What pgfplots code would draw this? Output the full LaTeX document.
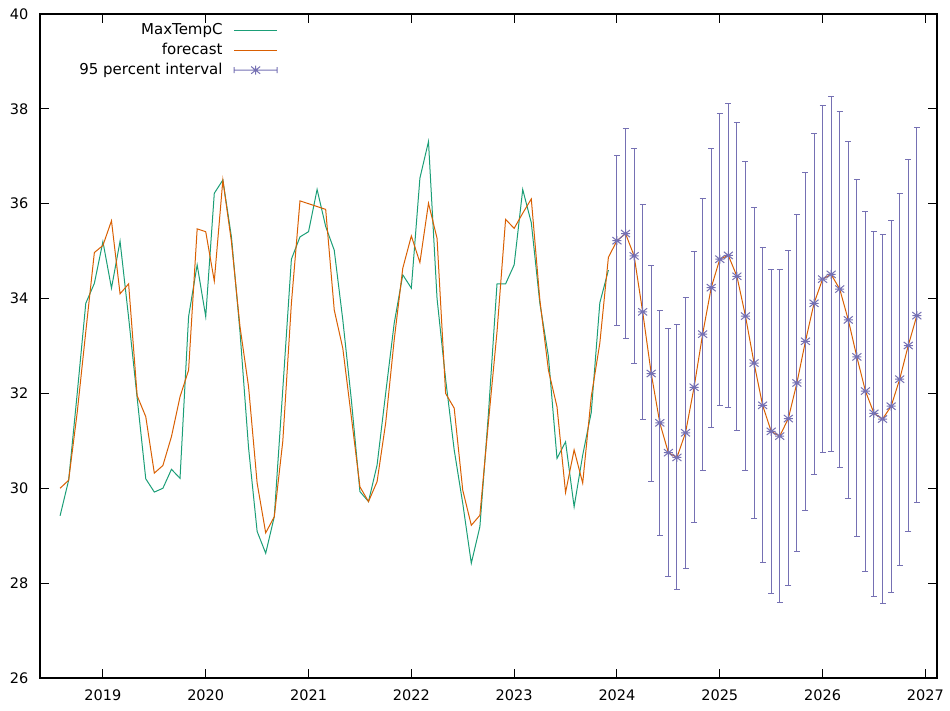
\documentclass[border=0pt]{standalone}
\usepackage{fontspec}
\setmainfont{DejaVu Sans}
\usepackage{pgfplots}
\pgfplotsset{compat=1.18}
\usepackage{pgfplotstable}
\definecolor{gpgreen}{HTML}{1B9E77}
\definecolor{gporange}{HTML}{D95F02}
\definecolor{gppurple}{HTML}{7570B3}
\pgfdeclareplotmark{gpstar}{%
 \pgfpathmoveto{\pgfqpoint{-\pgfplotmarksize}{0pt}}\pgfpathlineto{\pgfqpoint{\pgfplotmarksize}{0pt}}%
 \pgfpathmoveto{\pgfqpoint{0pt}{-\pgfplotmarksize}}\pgfpathlineto{\pgfqpoint{0pt}{\pgfplotmarksize}}%
 \pgfpathmoveto{\pgfqpoint{-\pgfplotmarksize}{-0.8\pgfplotmarksize}}\pgfpathlineto{\pgfqpoint{\pgfplotmarksize}{0.8\pgfplotmarksize}}%
 \pgfpathmoveto{\pgfqpoint{-\pgfplotmarksize}{0.8\pgfplotmarksize}}\pgfpathlineto{\pgfqpoint{\pgfplotmarksize}{-0.8\pgfplotmarksize}}%
 \pgfusepathqstroke}

\pgfplotstableread{
x y
2018.5833 29.42
2018.6667 30.17
2018.75 32.0
2018.8333 33.90
2018.9167 34.32
2019.0 35.20
2019.0833 34.22
2019.1667 35.21
2019.25 33.6
2019.3333 31.9
2019.4167 30.20
2019.5 29.92
2019.5833 30.0
2019.6667 30.40
2019.75 30.21
2019.8333 33.62
2019.9167 34.71
2020.0 33.62
2020.0833 36.22
2020.1667 36.50
2020.25 35.30
2020.3333 33.3
2020.4167 30.85
2020.5 29.09
2020.5833 28.63
2020.6667 29.40
2020.75 32.1
2020.8333 34.83
2020.9167 35.30
2021.0 35.41
2021.0833 36.30
2021.1667 35.52
2021.25 35.02
2021.3333 33.55
2021.4167 31.86
2021.5 29.93
2021.5833 29.72
2021.6667 30.49
2021.75 32.0
2021.8333 33.48
2021.9167 34.50
2022.0 34.22
2022.0833 36.54
2022.1667 37.31
2022.25 34.0
2022.3333 32.3
2022.4167 30.81
2022.5 29.68
2022.5833 28.42
2022.6667 29.19
2022.75 31.58
2022.8333 34.31
2022.9167 34.31
2023.0 34.71
2023.0833 36.30
2023.1667 35.6
2023.25 33.90
2023.3333 32.78
2023.4167 30.63
2023.5 30.98
2023.5833 29.61
2023.6667 30.7
2023.75 31.6
2023.8333 33.91
2023.9167 34.60
}\obs

\pgfplotstableread{
x y
2018.5833 30.0
2018.6667 30.17
2018.75 31.6
2018.8333 33.3
2018.9167 34.97
2019.0 35.12
2019.0833 35.64
2019.1667 34.10
2019.25 34.31
2019.3333 31.95
2019.4167 31.51
2019.5 30.32
2019.5833 30.48
2019.6667 31.09
2019.75 31.93
2019.8333 32.49
2019.9167 35.47
2020.0 35.41
2020.0833 34.37
2020.1667 36.50
2020.25 35.2
2020.3333 33.41
2020.4167 32.14
2020.5 30.11
2020.5833 29.06
2020.6667 29.40
2020.75 31.0
2020.8333 33.9
2020.9167 36.06
2021.0 36.0
2021.0833 35.94
2021.1667 35.88
2021.25 33.76
2021.3333 32.95
2021.4167 31.5
2021.5 30.03
2021.5833 29.72
2021.6667 30.14
2021.75 31.37
2021.8333 33.13
2021.9167 34.64
2022.0 35.32
2022.0833 34.76
2022.1667 36.01
2022.25 35.27
2022.3333 32.0
2022.4167 31.69
2022.5 29.96
2022.5833 29.22
2022.6667 29.43
2022.75 31.4
2022.8333 33.3
2022.9167 35.67
2023.0 35.48
2023.0833 35.80
2023.1667 36.1
2023.25 33.97
2023.3333 32.49
2023.4167 31.72
2023.5 29.91
2023.5833 30.81
2023.6667 30.11
2023.75 31.93
2023.8333 33.06
2023.9167 34.87
2024.0 35.22
2024.0833 35.37
2024.1667 34.90
2024.25 33.72
2024.3333 32.42
2024.4167 31.38
2024.5 30.75
2024.5833 30.65
2024.6667 31.17
2024.75 32.13
2024.8333 33.25
2024.9167 34.23
2025.0 34.83
2025.0833 34.91
2025.1667 34.47
2025.25 33.63
2025.3333 32.64
2025.4167 31.75
2025.5 31.20
2025.5833 31.10
2025.6667 31.47
2025.75 32.22
2025.8333 33.10
2025.9167 33.90
2026.0 34.41
2026.0833 34.51
2026.1667 34.20
2026.25 33.55
2026.3333 32.77
2026.4167 32.05
2026.5 31.58
2026.5833 31.46
2026.6667 31.73
2026.75 32.30
2026.8333 33.01
2026.9167 33.64
}\fc

\pgfplotstableread{
x y lo hi
2024.0 35.22 33.43 37.01
2024.0833 35.37 33.15 37.59
2024.1667 34.90 32.63 37.16
2024.25 33.72 31.46 35.98
2024.3333 32.42 30.15 34.69
2024.4167 31.38 29.01 33.75
2024.5 30.75 28.14 33.37
2024.5833 30.65 27.87 33.45
2024.6667 31.17 28.31 34.02
2024.75 32.13 29.27 34.99
2024.8333 33.25 30.38 36.12
2024.9167 34.23 31.28 37.17
2025.0 34.83 31.74 37.91
2025.0833 34.91 31.71 38.11
2025.1667 34.47 31.21 37.72
2025.25 33.63 30.37 36.90
2025.3333 32.64 29.37 35.91
2025.4167 31.75 28.43 35.07
2025.5 31.20 27.78 34.62
2025.5833 31.10 27.60 34.61
2025.6667 31.47 27.94 35.02
2025.75 32.22 28.67 35.77
2025.8333 33.10 29.54 36.65
2025.9167 33.90 30.30 37.49
2026.0 34.41 30.75 38.07
2026.0833 34.51 30.78 38.25
2026.1667 34.20 30.43 37.95
2026.25 33.55 29.79 37.31
2026.3333 32.77 28.99 36.52
2026.4167 32.05 28.25 35.83
2026.5 31.58 27.72 35.41
2026.5833 31.46 27.57 35.36
2026.6667 31.73 27.81 35.65
2026.75 32.30 28.38 36.22
2026.8333 33.01 29.08 36.93
2026.9167 33.64 29.71 37.60
}\ci

\begin{document}
\begin{tikzpicture}
\useasboundingbox (0,0) rectangle (950pt,711pt);
\begin{axis}[
  at={(40pt,33pt)}, anchor=south west,
  width=897pt, height=664pt, scale only axis,
  xmin=2018.388, xmax=2027.113, ymin=26, ymax=40,
  xtick={2019,2020,2021,2022,2023,2024,2025,2026,2027},
  ytick={26,28,30,32,34,36,38,40},
  tick align=inside, major tick length=9pt,
  tick style={black, line width=1pt},
  axis line style={black, line width=1.2pt},
  font=\fontsize{14.5pt}{17pt}\selectfont,
  /pgf/number format/1000 sep={},
  /pgf/number format/assume math mode=true,
  xticklabel style={anchor=north, inner sep=0pt, yshift=-12pt},
  yticklabel style={anchor=east, inner sep=0pt, xshift=-11.5pt},
  legend plot pos=right,
  legend cell align=right,
  legend style={draw=none, fill=none, at={(0.2653,0.9895)}, anchor=north east,
    font=\fontsize{15pt}{18pt}\selectfont,
    inner sep=0pt, row sep=2pt, column sep=9pt,
    nodes={inner sep=2pt, text height=11pt, text depth=3pt}},
]
\addplot[gpgreen, line width=1pt, no marks,
  legend image code/.code={\draw[gpgreen, line width=1.2pt] (0pt,0pt) -- (43pt,0pt);}]
  table[x=x, y=y] {\obs};
\addlegendentry{MaxTempC}
\addplot[gporange, line width=1pt, no marks,
  legend image code/.code={\draw[gporange, line width=1.2pt] (0pt,0pt) -- (43pt,0pt);}]
  table[x=x, y=y] {\fc};
\addlegendentry{forecast}
\addplot[gppurple, only marks, mark=gpstar, mark size=4.5pt,
  mark options={line width=1pt},
  legend image code/.code={
    \draw[gppurple, line width=1pt] (0pt,0pt) -- (43pt,0pt)
      (0pt,-3pt) -- (0pt,3pt) (43pt,-3pt) -- (43pt,3pt)
      (17pt,0pt) -- (26pt,0pt) (21.5pt,-4.5pt) -- (21.5pt,4.5pt)
      (17pt,-3.6pt) -- (26pt,3.6pt) (17pt,3.6pt) -- (26pt,-3.6pt);},
  error bars/.cd, y dir=both, y explicit,
  error mark=-,
  error bar style={gppurple, line width=1pt},
  error mark options={gppurple, mark size=3pt, line width=1pt, rotate=90}]
  table[x=x, y=y, y error plus expr=\thisrow{hi}-\thisrow{y}, y error minus expr=\thisrow{y}-\thisrow{lo}] {\ci};
\addlegendentry{95 percent interval}
\end{axis}
\end{tikzpicture}
\end{document}
